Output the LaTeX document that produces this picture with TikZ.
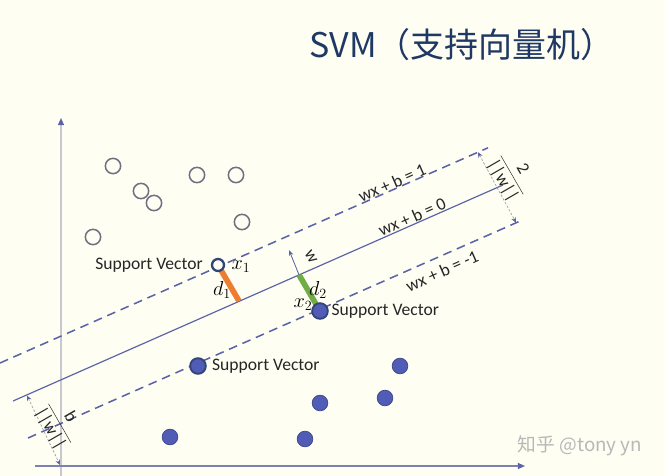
\documentclass[tikz,border=0pt]{standalone}
\usepackage{fontspec}
\setmainfont{Carlito}
\newfontfamily\cjk{Noto Sans CJK SC}
\usetikzlibrary{positioning,arrows.meta}
\definecolor{Cream}{RGB}{254,254,242}
\definecolor{Navy}{RGB}{31,56,100}
\definecolor{Line}{RGB}{90,98,168}
\definecolor{Dot}{RGB}{80,92,182}
\definecolor{Ring}{RGB}{112,112,128}
\definecolor{Axis}{RGB}{200,200,208}
\definecolor{Orange}{RGB}{237,125,49}
\definecolor{Green}{RGB}{112,173,71}

\begin{document}
\begin{tikzpicture}[x=0.03cm,y=-0.03cm,
 opn/.style={circle,draw=Ring,line width=1.3pt,minimum size=0.46cm,inner sep=0},
 dot/.style={circle,draw=Dot!75!black,fill=Dot,line width=0.6pt,minimum size=0.47cm,inner sep=0},
 sv/.style={dot,draw=Navy!70!Line,line width=1.6pt},
 lbl/.style={font=\fontsize{15}{17}\selectfont,text=black!85,inner sep=1pt},
 eq/.style={lbl,rotate=23.8},
 mth/.style={font=\fontsize{17}{19}\selectfont,inner sep=0},
 hyp/.style={Line,line width=1.3pt,dash pattern=on 7.5pt off 5pt},
 dim/.style={Axis!80!black,line width=0.6pt,dash pattern=on 2pt off 1.5pt,
   {Stealth[length=4.5pt,width=4pt,color=Line]}-{Stealth[length=4.5pt,width=4pt,color=Line]}},
 ax/.style={line width=1.2pt,-{Triangle[length=6pt,width=5pt,color=Line]}}]
\fill[Cream] (0,0) rectangle (665,476);
\useasboundingbox (0,0) rectangle (665,476);
% title and mark
\node[text=Navy,font=\cjk\fontsize{29}{31}\selectfont] (title) at (462,45) {SVM（支持向量机）};
\node[text=black!28,font=\cjk\fontsize{16}{18}\selectfont] (mark) at (580,446) {知乎 @tony yn};
% axes
\coordinate (yb) at (61,476);
\coordinate (yt) at (61,118);
\coordinate (xl) at (35,466);
\coordinate (xr) at (525,466);
\draw[ax,Axis] (yb)--(yt);
\draw[ax,Line!70!Axis] (xl)--(xr);
% hyperplanes
\coordinate (h0a) at (13,401);
\coordinate (h0b) at (503,185);
\coordinate (h1a) at (0,363);
\coordinate (h1b) at (488,147.8);
\coordinate (hma) at (28,438);
\coordinate (hmb) at (522,220.2);
\draw[Line,line width=1pt] (h0a)--(h0b);
\draw[hyp] (h1a)--(h1b);
\draw[hyp] (hma)--(hmb);
\node[eq] (e1) at (392,183) {wx + b = 1};
\node[eq] (e0) at (412,217) {wx + b = 0};
\node[eq] (em) at (442,271) {wx + b = -1};
% margins
\coordinate (dr1) at (478,152.2);
\coordinate (dr2) at (516,222.6);
\coordinate (dl1) at (27,395.5);
\coordinate (dl2) at (60,465);
\draw[dim] (dr1)--(dr2);
\draw[dim] (dl1)--(dl2);
\node[lbl,rotate=-60] (m2) at (512,175) {$\displaystyle\frac{\mbox{2}}{\mbox{||w||}}$};
\node[lbl,rotate=-60] (mb) at (60,423) {$\displaystyle\frac{\mbox{b}}{\mbox{||w||}}$};
% points
\node[opn] (o1) at (113,166) {};
\node[opn] (o2) at (141,191) {};
\node[opn] (o3) at (154,203) {};
\node[opn] (o4) at (197,175) {};
\node[opn] (o5) at (236,175) {};
\node[opn] (o6) at (242,222) {};
\node[opn] (o7) at (93,237) {};
\node[dot] (p1) at (400,366) {};
\node[dot] (p2) at (320,403) {};
\node[dot] (p3) at (385,398) {};
\node[dot] (p4) at (170,437) {};
\node[dot] (p5) at (305,439) {};
% support vectors and distances
\coordinate (f1) at (239,301);
\coordinate (f2) at (299,274.8);
\coordinate (wt) at (289,250);
\draw[Orange,line width=4.8pt] (218,265)--(f1);
\draw[Green,line width=4.8pt] (320,311)--(f2);
\draw[Line,line width=0.7pt,-{Stealth[length=5pt,width=4pt]}] (f2)--(wt);
\node[circle,draw=Navy!70!Line,fill=Cream,line width=2pt,minimum size=0.36cm,inner sep=0] (sv1) at (218,265) {};
\node[sv] (sv2) at (320,311) {};
\node[sv] (sv3) at (198,366) {};
\node[lbl,left=0.2cm of sv1] (t1) {Support Vector};
\node[lbl,right=0.04cm of sv2] (t2) {Support Vector};
\node[lbl,right=0.12cm of sv3] (t3) {Support Vector};
\node[mth] (x1) at (241,267) {$x_1$};
\node[mth] (d1) at (222,290) {$d_1$};
\node[mth] (x2) at (303,305) {$x_2$};
\node[mth] (d2) at (318,290) {$d_2$};
\node[lbl,rotate=-60] (wl) at (311,257) {w};
\end{tikzpicture}
\end{document}
